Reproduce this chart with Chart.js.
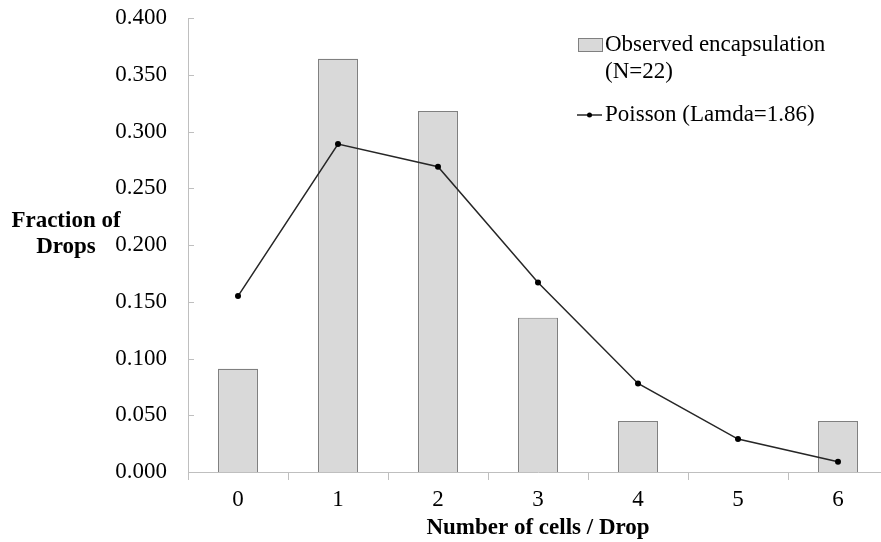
<!DOCTYPE html>
<html>
<head>
<meta charset="utf-8">
<script src="https://cdn.jsdelivr.net/npm/chart.js@4/dist/chart.umd.min.js"></script>
<style>
  html, body { margin: 0; padding: 0; background: #fff; overflow: hidden; }
  #wrap { width: 900px; height: 542px; }
</style>
</head>
<body>
<div id="wrap"><canvas id="chart" width="900" height="542"></canvas></div>
<script>
// Number of cells per drop
const categories = ["0", "1", "2", "3", "4", "5", "6"];
// Observed fraction of drops (N=22)
const observed = [0.091, 0.364, 0.318, 0.136, 0.045, 0, 0.045];
// Poisson fraction (lambda = 1.86)
const poisson = [0.155, 0.289, 0.269, 0.167, 0.078, 0.029, 0.009];
const yTicks = [0, 0.05, 0.1, 0.15, 0.2, 0.25, 0.3, 0.35, 0.4];

const SERIF = "'Liberation Serif', 'Times New Roman', serif";

// Draw horizontal y title, inward y ticks and the legend
const extras = {
  id: "extras",
  afterDraw(chart) {
    const ctx = chart.ctx;
    const y = chart.scales.y;
    const left = chart.chartArea.left;
    ctx.save();

    // inward tick marks on the y axis
    ctx.strokeStyle = "#bfbfbf";
    ctx.lineWidth = 1;
    yTicks.forEach(v => {
      const py = Math.round(y.getPixelForValue(v)) + 0.5;
      ctx.beginPath();
      ctx.moveTo(left, py);
      ctx.lineTo(left + 6, py);
      ctx.stroke();
    });

    // y axis title
    ctx.fillStyle = "#000";
    ctx.font = "bold 23px " + SERIF;
    ctx.textAlign = "center";
    ctx.textBaseline = "middle";
    ctx.fillText("Fraction of", 66, 221);
    ctx.fillText("Drops", 66, 247);

    // legend
    ctx.font = "23px " + SERIF;
    ctx.textAlign = "left";
    ctx.fillStyle = "#d9d9d9";
    ctx.fillRect(578, 38, 24, 13);
    ctx.strokeStyle = "#808080";
    ctx.strokeRect(578.5, 38.5, 24, 13);
    ctx.fillStyle = "#000";
    ctx.fillText("Observed encapsulation", 605, 45);
    ctx.fillText("(N=22)", 605, 72);

    ctx.strokeStyle = "#262626";
    ctx.lineWidth = 1.5;
    ctx.beginPath();
    ctx.moveTo(577, 115);
    ctx.lineTo(602, 115);
    ctx.stroke();
    ctx.beginPath();
    ctx.arc(589.5, 115, 2.5, 0, Math.PI * 2);
    ctx.fillStyle = "#000";
    ctx.fill();
    ctx.fillText("Poisson (Lamda=1.86)", 605, 115);

    ctx.restore();
  }
};

new Chart(document.getElementById("chart"), {
  type: "bar",
  data: {
    labels: categories,
    datasets: [
      {
        type: "line",
        label: "Poisson (Lamda=1.86)",
        data: poisson,
        borderColor: "#262626",
        backgroundColor: "#000",
        borderWidth: 1.5,
        pointRadius: 3,
        pointBackgroundColor: "#000",
        pointBorderWidth: 0,
        tension: 0,
        fill: false,
        order: 0
      },
      {
        label: "Observed encapsulation (N=22)",
        data: observed,
        backgroundColor: "#d9d9d9",
        borderColor: "#808080",
        borderWidth: 1.2,
        barPercentage: 0.4,
        categoryPercentage: 1.0,
        order: 1
      }
    ]
  },
  options: {
    responsive: false,
    animation: false,
    events: [],
    layout: { padding: { left: 0, right: 12, top: 0, bottom: 0 } },
    plugins: {
      legend: { display: false },
      tooltip: { enabled: false }
    },
    scales: {
      x: {
        offset: true,
        grid: {
          offset: true,
          drawOnChartArea: false,
          color: "#bfbfbf",
          tickLength: 8
        },
        border: { color: "#bfbfbf" },
        ticks: {
          color: "#000",
          padding: 6,
          font: { family: SERIF, size: 23 }
        },
        title: {
          display: true,
          text: "Number of cells / Drop",
          color: "#000",
          padding: { top: 7, bottom: 0 },
          font: { family: SERIF, size: 23, weight: "bold" }
        },
        afterFit(scale) { scale.height = 70; }
      },
      y: {
        min: 0,
        max: 0.4,
        afterBuildTicks(scale) {
          scale.ticks = yTicks.map(v => ({ value: v }));
        },
        grid: { display: false, drawTicks: false },
        border: { color: "#bfbfbf" },
        ticks: {
          color: "#000",
          padding: 21,
          font: { family: SERIF, size: 23 },
          callback: v => Number(v).toFixed(3)
        },
        afterFit(scale) {
          scale.width = 188;
          scale.paddingTop = 18;
          scale.paddingBottom = 0;
        }
      }
    }
  },
  plugins: [extras]
});
</script>
</body>
</html>
